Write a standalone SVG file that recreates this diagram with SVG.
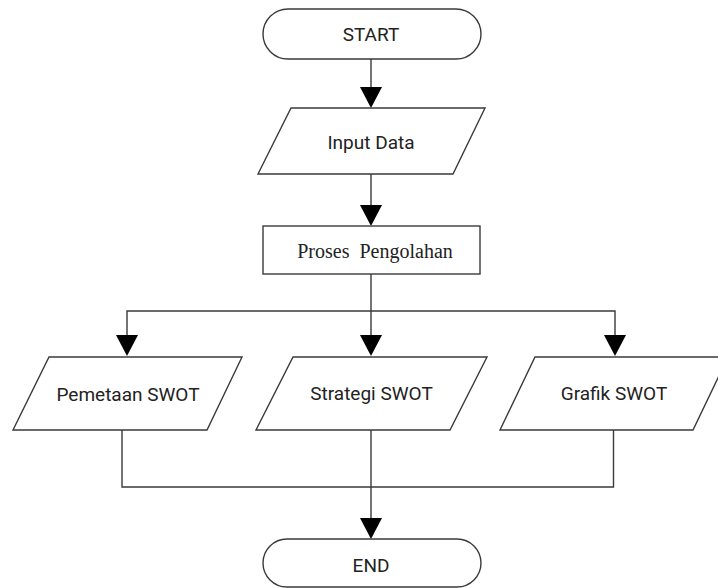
<svg xmlns="http://www.w3.org/2000/svg" width="718" height="588" viewBox="0 0 718 588">
<defs>
<style>
.shape{fill:#fff;stroke:#3a3a3a;stroke-width:1.4}
.conn{fill:none;stroke:#3a3a3a;stroke-width:1.4}
.head{fill:#000}
.t{font-family:Roboto,"Liberation Sans",Arial,sans-serif;font-size:19px;fill:#222;text-anchor:middle;dominant-baseline:central}
.ts{font-family:"Liberation Serif","Times New Roman",serif;font-size:20px;fill:#222;text-anchor:middle;dominant-baseline:central}
</style>
</defs>
<rect width="718" height="588" fill="#fff"/>
<g id="connectors">
<path class="conn" d="M371,59 V88"/>
<path class="head" d="M360,87 L382,87 L371,108 Z"/>
<path class="conn" d="M371,174 V206"/>
<path class="head" d="M360,205 L382,205 L371,226 Z"/>
<path class="conn" d="M371,274 V336"/>
<path class="conn" d="M127,336 V311 H615 V336"/>
<path class="head" d="M116,335 L138,335 L127,356 Z"/>
<path class="head" d="M360,335 L382,335 L371,356 Z"/>
<path class="head" d="M604,335 L626,335 L615,356 Z"/>
<path class="conn" d="M122,430 V487 H613.5 V430"/>
<path class="conn" d="M371,430 V519"/>
<path class="head" d="M360,518 L382,518 L371,539 Z"/>
</g>
<g id="start">
<rect class="shape" x="263" y="9" width="218" height="50" rx="25" ry="25"/>
<text class="t" x="371" y="34">START</text>
</g>
<g id="input">
<polygon class="shape" points="291,108 485,108 453,174 258,174"/>
<text class="t" x="371" y="142">Input Data</text>
</g>
<g id="proses">
<rect class="shape" x="263" y="226" width="217" height="48"/>
<text class="ts" x="375" y="251" xml:space="preserve">Proses  Pengolahan</text>
</g>
<g id="pemetaan">
<polygon class="shape" points="49,357 242,357 207,430 13,430"/>
<text class="t" x="128" y="394">Pemetaan SWOT</text>
</g>
<g id="strategi">
<polygon class="shape" points="293,357 487,357 450,430 256,430"/>
<text class="t" x="371.5" y="393">Strategi SWOT</text>
</g>
<g id="grafik">
<polygon class="shape" points="535,357 728,357 693,430 500,430"/>
<text class="t" x="614" y="393">Grafik SWOT</text>
</g>
<g id="end">
<rect class="shape" x="263" y="539" width="218" height="48" rx="24" ry="24"/>
<text class="t" x="371" y="565">END</text>
</g>
</svg>
